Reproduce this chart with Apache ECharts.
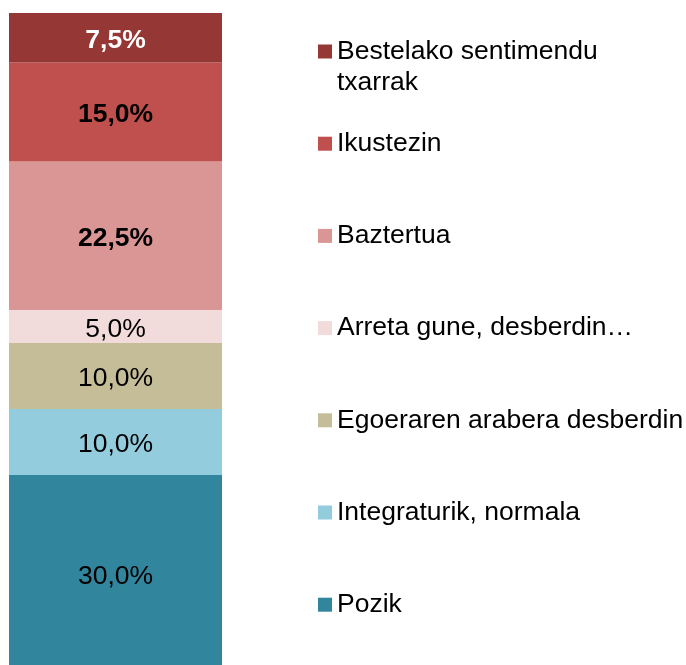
<!DOCTYPE html>
<html>
<head>
<meta charset="utf-8">
<script src="https://cdn.jsdelivr.net/npm/echarts@6/dist/echarts.min.js"></script>
<style>
  html, body { margin: 0; padding: 0; background: #fff; }
  #chart { width: 686px; height: 665px; }
</style>
</head>
<body>
<div id="chart"></div>
<script>
  // one stacked column, bottom segment first
  const categories = [''];
  const seriesNames = [
    'Pozik',
    'Integraturik, normala',
    'Egoeraren arabera desberdin',
    'Arreta gune, desberdin…',
    'Baztertua',
    'Ikustezin',
    'Bestelako sentimendu txarrak'
  ];
  const seriesValues = [30, 10, 10, 5, 22.5, 15, 7.5];
  const seriesColors = ['#31859C', '#93CDDD', '#C4BD97', '#F2DCDB', '#D99694', '#C0504D', '#953735'];
  const boldLabels = [false, false, false, false, true, true, true];
  const labelColors = ['#000', '#000', '#000', '#000', '#000', '#000', '#fff'];

  // legend text that wraps in the reference
  const legendLines = {
    'Bestelako sentimendu txarrak': ['Bestelako sentimendu', 'txarrak']
  };

  const font = '"Liberation Sans", Arial, sans-serif';
  const chart = echarts.init(document.getElementById('chart'));

  const series = seriesNames.map((name, i) => ({
    name: name,
    type: 'bar',
    stack: 'total',
    barWidth: '100%',
    data: [seriesValues[i]],
    itemStyle: { color: seriesColors[i] },
    label: {
      show: true,
      position: 'inside',
      offset: [0, 3],
      fontFamily: font,
      fontSize: 26.5,
      fontWeight: boldLabels[i] ? 'bold' : 'normal',
      color: labelColors[i],
      formatter: p => p.value.toFixed(1).replace('.', ',') + '%'
    }
  }));

  chart.setOption({
    animation: false,
    // the column runs past the bottom edge of the picture
    grid: { left: 9, top: 13, width: 213, height: 660, outerBoundsMode: 'none' },
    xAxis: {
      type: 'category',
      data: categories,
      show: false
    },
    yAxis: {
      type: 'value',
      min: 0,
      max: 100,
      show: false
    },
    legend: {
      orient: 'vertical',
      left: 318,
      top: 5,
      height: 720,
      padding: 0,
      itemGap: -0.8,
      itemWidth: 14,
      itemHeight: 14,
      icon: 'rect',
      data: seriesNames.slice().reverse(),
      formatter: name => {
        // three lines per item so the marker sits on the first text line
        const lines = legendLines[name] || [name, ' '];
        return ' \n' + lines.join('\n');
      },
      textStyle: {
        fontFamily: font,
        fontSize: 26.5,
        lineHeight: 31,
        color: '#000'
      }
    },
    series: series
  });
</script>
</body>
</html>
